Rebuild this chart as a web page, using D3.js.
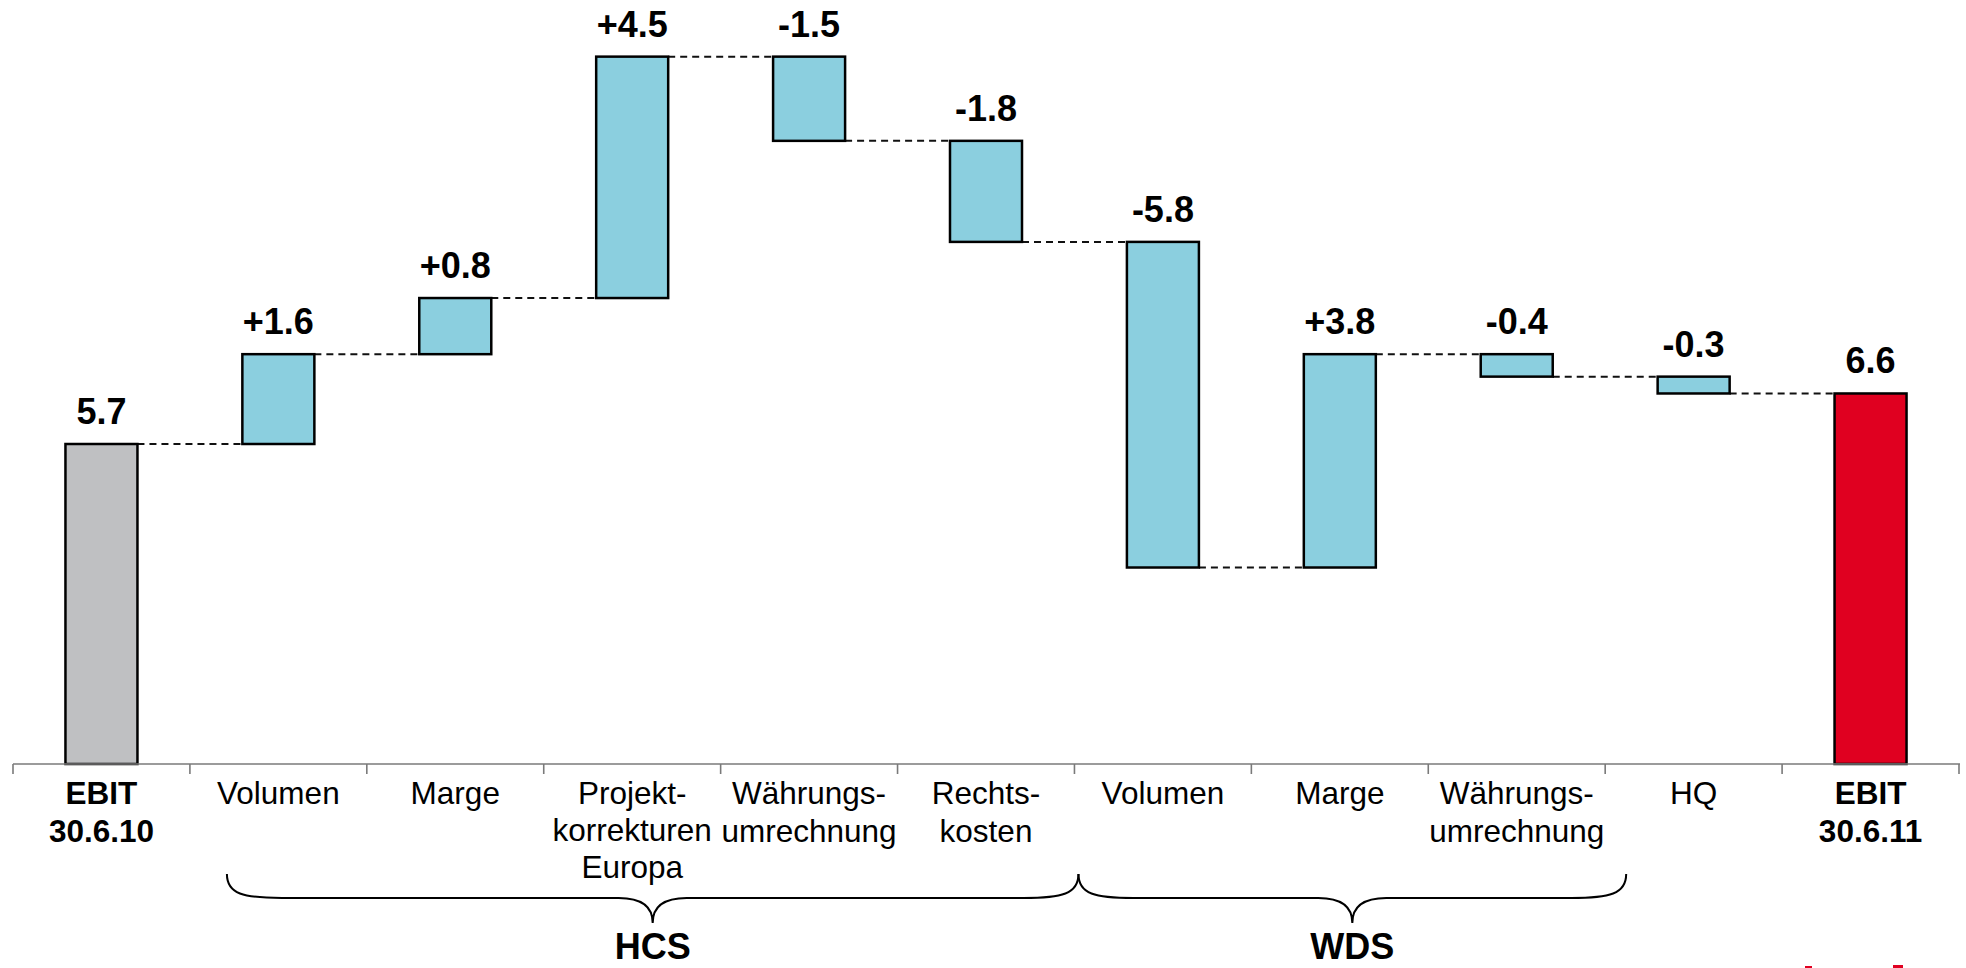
<!DOCTYPE html>
<html>
<head>
<meta charset="utf-8">
<script src="https://cdn.jsdelivr.net/npm/d3@7"></script>
<style>
  html, body { margin: 0; padding: 0; background: #ffffff; }
  svg { display: block; font-family: "Liberation Sans", Arial, Helvetica, sans-serif; }
</style>
</head>
<body>
<svg id="chart" width="1966" height="968"></svg>
<script>
// ---- data ----
const categories = ["EBIT 30.6.10", "Volumen (HCS)", "Marge (HCS)", "Projektkorrekturen Europa",
  "Währungsumrechnung (HCS)", "Rechtskosten", "Volumen (WDS)", "Marge (WDS)",
  "Währungsumrechnung (WDS)", "HQ", "EBIT 30.6.11"];
const categoryLines = [
  ["EBIT", "30.6.10"], ["Volumen"], ["Marge"], ["Projekt-", "korrekturen", "Europa"],
  ["Währungs-", "umrechnung"], ["Rechts-", "kosten"], ["Volumen"], ["Marge"],
  ["Währungs-", "umrechnung"], ["HQ"], ["EBIT", "30.6.11"]
];
const barKinds = ["start", "delta", "delta", "delta", "delta", "delta", "delta", "delta", "delta", "delta", "end"];
// bar sizes as drawn in the picture
const barValues = [5.7, 1.6, 1.0, 4.3, -1.5, -1.8, -5.8, 3.8, -0.4, -0.3, 6.6];
// printed value labels
const valueLabels = ["5.7", "+1.6", "+0.8", "+4.5", "-1.5", "-1.8", "-5.8", "+3.8", "-0.4", "-0.3", "6.6"];
const groupNames = ["HCS", "WDS"];
const groupFrom = [1, 6];
const groupTo = [5, 8];

// ---- style ----
const colors = { start: "#BFC0C2", delta: "#8BCFDF", end: "#E00020" };
const braceInsets = [[37, 4], [4, 21]];

const svg = d3.select("#chart");
const axisY = 764;
const pxPerUnit = 56.14;

const idx = d3.range(categories.length);
const xStep = d3.scaleBand().domain(idx).range([13, 1959]).padding(0);
const xBar = d3.scaleBand().domain(idx).range([13, 1959]).paddingInner(0.593).paddingOuter(0.2965);
const y = d3.scaleLinear().domain([0, axisY / pxPerUnit]).range([axisY, 0]);

// compute bar extents
let running = 0;
const bars = idx.map(i => {
  let lo, hi, level;
  if (barKinds[i] === "start" || barKinds[i] === "end") {
    lo = 0; hi = barValues[i]; running = barValues[i]; level = running;
  } else {
    const prev = running;
    running = prev + barValues[i];
    lo = Math.min(prev, running); hi = Math.max(prev, running); level = running;
  }
  return { i, lo, hi, level, kind: barKinds[i], label: valueLabels[i] };
});

// connectors
const conn = svg.append("g");
bars.slice(0, -1).forEach((b, k) => {
  conn.append("line")
    .attr("x1", xBar(b.i) + xBar.bandwidth())
    .attr("x2", xBar(bars[k + 1].i))
    .attr("y1", y(b.level)).attr("y2", y(b.level))
    .attr("stroke", "#111").attr("stroke-width", 2)
    .attr("stroke-dasharray", "7,5");
});

// bars
svg.append("g").selectAll("rect").data(bars).join("rect")
  .attr("x", d => xBar(d.i))
  .attr("width", xBar.bandwidth())
  .attr("y", d => y(d.hi))
  .attr("height", d => y(d.lo) - y(d.hi))
  .attr("fill", d => colors[d.kind])
  .attr("stroke", "#000").attr("stroke-width", 2.5);

// value labels
svg.append("g").selectAll("text").data(bars).join("text")
  .attr("x", d => xBar(d.i) + xBar.bandwidth() / 2)
  .attr("y", d => y(d.hi) - 20)
  .attr("text-anchor", "middle")
  .attr("font-size", 36).attr("font-weight", "bold").attr("fill", "#000")
  .text(d => d.label);

// axis line with ticks at band boundaries
const axisG = svg.append("g");
axisG.append("line")
  .attr("x1", xStep.range()[0]).attr("x2", xStep.range()[1] + 1)
  .attr("y1", axisY).attr("y2", axisY)
  .attr("stroke", "#7a7a7a").attr("stroke-width", 1.6);
const boundaries = idx.map(i => xStep(i)).concat([xStep.range()[1]]);
axisG.selectAll("line.tick").data(boundaries).join("line")
  .attr("class", "tick")
  .attr("x1", d => d).attr("x2", d => d)
  .attr("y1", axisY).attr("y2", axisY + 10)
  .attr("stroke", "#7a7a7a").attr("stroke-width", 1.6);

// category labels
const catG = svg.append("g");
idx.forEach(i => {
  const isBold = barKinds[i] !== "delta";
  const lh = categoryLines[i].length > 2 ? 37 : 38;
  const t = catG.append("text")
    .attr("x", xStep(i) + xStep.bandwidth() / 2)
    .attr("y", 804)
    .attr("text-anchor", "middle")
    .attr("font-size", 31.5)
    .attr("font-weight", isBold ? "bold" : "normal")
    .attr("fill", "#000");
  categoryLines[i].forEach((ln, k) => {
    t.append("tspan").attr("x", xStep(i) + xStep.bandwidth() / 2)
      .attr("y", 804 + k * lh).text(ln);
  });
});

// braces + group names
const braceTop = 874, braceMid = 898, braceTip = 923;
groupNames.forEach((name, g) => {
  const x0 = xStep(groupFrom[g]) + braceInsets[g][0];
  const x1 = xStep(groupTo[g] + 1) + braceInsets[g][1];
  const xc = (x0 + x1) / 2;
  const rE = 55, rT = 34;
  const p = d3.path();
  p.moveTo(x0, braceTop);
  p.bezierCurveTo(x0, braceMid - 4, x0 + rE * 0.3, braceMid, x0 + rE, braceMid);
  p.lineTo(xc - rT, braceMid);
  p.bezierCurveTo(xc - rT * 0.35, braceMid, xc, braceMid + 8, xc, braceTip);
  p.bezierCurveTo(xc, braceMid + 8, xc + rT * 0.35, braceMid, xc + rT, braceMid);
  p.lineTo(x1 - rE, braceMid);
  p.bezierCurveTo(x1 - rE * 0.3, braceMid, x1, braceMid - 4, x1, braceTop);
  svg.append("path").attr("d", p.toString())
    .attr("fill", "none").attr("stroke", "#000").attr("stroke-width", 2);
  svg.append("text")
    .attr("x", xc).attr("y", 959)
    .attr("text-anchor", "middle")
    .attr("font-size", 36).attr("font-weight", "bold").attr("fill", "#000")
    .text(name);
});

// small clipped red logo fragment at the bottom edge
svg.append("rect").attr("x", 1805).attr("y", 966).attr("width", 7).attr("height", 2).attr("fill", "#E00020");
svg.append("rect").attr("x", 1893).attr("y", 965).attr("width", 10).attr("height", 3).attr("fill", "#E00020");
</script>
</body>
</html>
